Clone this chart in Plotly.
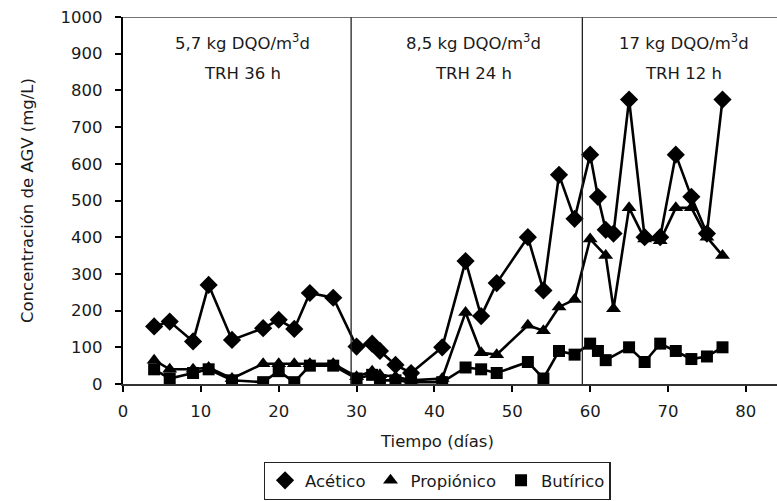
import plotly.graph_objects as go

# ---- data ----
dias_acetico = [4, 6, 9, 11, 14, 18, 20, 22, 24, 27, 30, 32, 33, 35, 37, 41, 44, 46, 48,
                52, 54, 56, 58, 60, 61, 62, 63, 65, 67, 69, 71, 73, 75, 77]
acetico = [157, 170, 116, 270, 120, 152, 175, 150, 248, 235, 102, 110, 90, 52, 30, 100, 335, 185, 275,
           400, 255, 570, 450, 625, 510, 420, 410, 775, 400, 400, 625, 510, 410, 775]

dias_propionico = [4, 6, 9, 11, 14, 18, 20, 22, 24, 27, 30, 32, 33, 35, 37, 41, 44, 46, 48,
                   52, 54, 56, 58, 60, 62, 63, 65, 67, 69, 71, 73, 75, 77]
propionico = [65, 40, 40, 45, 15, 55, 55, 55, 55, 55, 20, 35, 25, 20, 10, 15, 195, 85, 80,
              160, 145, 210, 230, 395, 350, 205, 480, 395, 390, 480, 480, 400, 350]

dias_butirico = [4, 6, 9, 11, 14, 18, 20, 22, 24, 27, 30, 32, 33, 35, 37, 41, 44, 46, 48,
                 52, 54, 56, 58, 60, 61, 62, 65, 67, 69, 71, 73, 75, 77]
butirico = [40, 15, 30, 40, 10, 5, 35, 5, 50, 50, 15, 25, 10, 10, 5, 5, 45, 40, 30,
            60, 15, 90, 80, 110, 90, 65, 100, 60, 110, 90, 68, 75, 100]

periodos_x = [29.3, 59.0]
etiquetas_carga = ["5,7 kg DQO/m<sup>3</sup>d", "8,5 kg DQO/m<sup>3</sup>d", "17 kg DQO/m<sup>3</sup>d"]
etiquetas_trh = ["TRH 36 h", "TRH 24 h", "TRH 12 h"]
etiquetas_x = [15.3, 45.0, 72.0]

x_ticks = [0, 10, 20, 30, 40, 50, 60, 70, 80]
y_ticks = [0, 100, 200, 300, 400, 500, 600, 700, 800, 900, 1000]

FONT = "DejaVu Sans"
TXT = "#1a1a1a"
FS = 16.5

fig = go.Figure()

series = [
    ("Acético", dias_acetico, acetico, "diamond", 14),
    ("Propiónico", dias_propionico, propionico, "triangle-up", 13),
    ("Butírico", dias_butirico, butirico, "square", 12),
]
for name, xs, ys, sym, sz in series:
    fig.add_trace(go.Scatter(x=xs, y=ys, mode="lines", showlegend=False,
                             line=dict(color="black", width=2.6), hoverinfo="skip"))
for name, xs, ys, sym, sz in series:
    fig.add_trace(go.Scatter(x=xs, y=ys, mode="markers", name=name,
                             marker=dict(symbol=sym, size=sz, color="black",
                                         line=dict(width=0))))

# period separators and top border
for xv in periodos_x:
    fig.add_shape(type="line", x0=xv, x1=xv, y0=0, y1=1000, xref="x", yref="y",
                  line=dict(color="#222", width=1.3))
fig.add_shape(type="line", x0=0, x1=1, y0=1000, y1=1000, xref="paper", yref="y",
              line=dict(color="#444", width=1.3))

for xv, c, t in zip(etiquetas_x, etiquetas_carga, etiquetas_trh):
    fig.add_annotation(x=xv, y=932, xref="x", yref="y", text=c, showarrow=False,
                       font=dict(family=FONT, size=FS, color=TXT))
    fig.add_annotation(x=xv, y=845, xref="x", yref="y", text=t, showarrow=False,
                       font=dict(family=FONT, size=FS, color=TXT))

fig.add_annotation(x=0.4805, y=-0.158, xref="paper", yref="paper", text="Tiempo (días)",
                   showarrow=False, xanchor="center", yanchor="middle",
                   font=dict(family=FONT, size=FS, color=TXT))
fig.add_annotation(x=-0.146, y=0.5, xref="paper", yref="paper",
                   text="Concentración de AGV (mg/L)", textangle=-90, showarrow=False,
                   xanchor="center", yanchor="middle",
                   font=dict(family=FONT, size=16.5, color=TXT))

fig.update_xaxes(range=[0, 84], tickvals=x_ticks, ticktext=[str(v) for v in x_ticks],
                 showgrid=False, zeroline=False, showline=True, linecolor="#333", linewidth=1.5,
                 ticks="outside", ticklen=6, tickwidth=2, tickcolor="black",
                 ticklabelstandoff=5,
                 tickfont=dict(family=FONT, size=FS, color=TXT))
fig.update_yaxes(range=[0, 1000], tickvals=y_ticks, ticktext=[str(v) for v in y_ticks],
                 showgrid=False, zeroline=False, showline=True, linecolor="black", linewidth=2.2,
                 ticks="outside", ticklen=6, tickwidth=2, tickcolor="black",
                 ticklabelstandoff=9,
                 tickfont=dict(family=FONT, size=FS, color=TXT))

fig.update_layout(
    width=777, height=501,
    margin=dict(l=123, r=0, t=17, b=117),
    plot_bgcolor="white", paper_bgcolor="white",
    legend=dict(orientation="h", x=0.4805, xanchor="center", y=-0.212, yanchor="top",
                bordercolor="#222", borderwidth=1.3, bgcolor="white",
                font=dict(family=FONT, size=FS, color=TXT),
                itemwidth=30, traceorder="normal"),
)

fig.write_html("out.html")
